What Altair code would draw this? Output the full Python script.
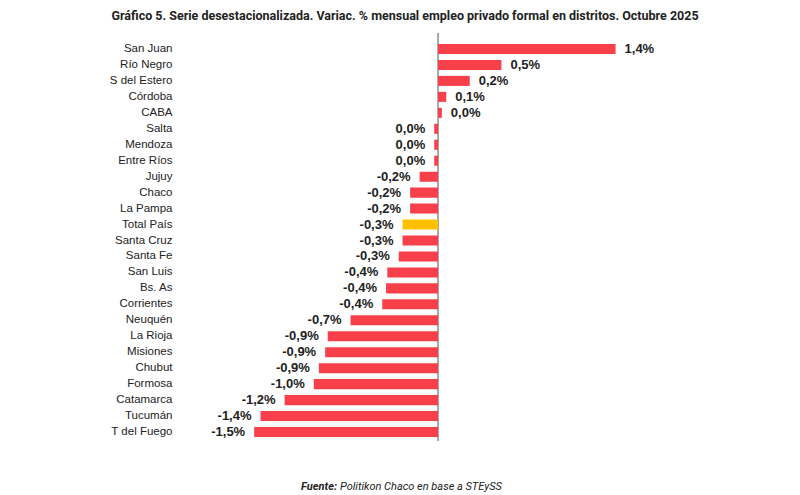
import altair as alt
import pandas as pd

title_text = "Gráfico 5. Serie desestacionalizada. Variac. % mensual empleo privado formal en distritos. Octubre 2025"
source_bold = "Fuente:"
source_rest = "Politikon Chaco en base a STEySS"

districts = ["San Juan", "Río Negro", "S del Estero", "Córdoba", "CABA", "Salta", "Mendoza",
             "Entre Ríos", "Jujuy", "Chaco", "La Pampa", "Total País", "Santa Cruz", "Santa Fe",
             "San Luis", "Bs. As", "Corrientes", "Neuquén", "La Rioja", "Misiones", "Chubut",
             "Formosa", "Catamarca", "Tucumán", "T del Fuego"]
values = [1.40, 0.50, 0.25, 0.065, 0.03, -0.03, -0.03, -0.03, -0.145, -0.22, -0.22, -0.28,
          -0.28, -0.31, -0.40, -0.41, -0.44, -0.69, -0.87, -0.89, -0.94, -0.98, -1.21, -1.40, -1.45]
labels = ["1,4%", "0,5%", "0,2%", "0,1%", "0,0%", "0,0%", "0,0%", "0,0%", "-0,2%", "-0,2%",
          "-0,2%", "-0,3%", "-0,3%", "-0,3%", "-0,4%", "-0,4%", "-0,4%", "-0,7%", "-0,9%",
          "-0,9%", "-0,9%", "-1,0%", "-1,2%", "-1,4%", "-1,5%"]
highlight = "Total País"

df = pd.DataFrame({"d": districts, "v": values, "lab": labels})
df["hl"] = df["d"] == highlight
df["pos"] = df["v"] >= 0

W, H = 520, 399
RED, GOLD = "#F7404A", "#FFC000"
DOM = [-2.035, 2.066]

y = alt.Y("d:N", sort=districts, title=None,
          scale=alt.Scale(paddingInner=0.37, paddingOuter=0.185),
          axis=alt.Axis(domain=False, ticks=False, grid=False, labelPadding=8, labelFontSize=11.5,
                        labelFont="Liberation Sans", labelColor="#222222"))
x = alt.X("v:Q", title=None, axis=None,
          scale=alt.Scale(domain=DOM, nice=False, zero=False))

base = alt.Chart(df)

bars = base.mark_bar().encode(
    x=x, x2=alt.datum(0), y=y,
    color=alt.condition(alt.datum.hl, alt.value(GOLD), alt.value(RED)),
)

pos_text = base.transform_filter(alt.datum.pos).mark_text(
    align="left", baseline="middle", dx=9, fontSize=13, fontWeight="bold",
    font="Liberation Sans", color="#222222").encode(x=x, y=y, text="lab:N")
neg_text = base.transform_filter(~alt.datum.pos).mark_text(
    align="right", baseline="middle", dx=-9, fontSize=13, fontWeight="bold",
    font="Liberation Sans", color="#222222").encode(x=x, y=y, text="lab:N")

zero_df = pd.DataFrame({"z": [0]})
zero_line = alt.Chart(zero_df).mark_rule(color="#555555", strokeWidth=1).encode(
    x=alt.X("z:Q", scale=alt.Scale(domain=DOM, nice=False, zero=False), axis=None),
    y=alt.value(-8), y2=alt.value(H + 1))

title_df = pd.DataFrame({"t": [title_text]})
title = alt.Chart(title_df).mark_text(
    align="center", baseline="alphabetic", fontSize=12.5, fontWeight="bold",
    font="Roboto", color="#222222").encode(
    text="t:N", x=alt.value(225), y=alt.value(-21))

src_df = pd.DataFrame({"a": [source_bold], "b": [source_rest]})
src_a = alt.Chart(src_df).mark_text(
    align="right", baseline="alphabetic", fontSize=11, fontWeight="bold", fontStyle="italic",
    font="Roboto", color="#222222").encode(
    text="a:N", x=alt.value(157), y=alt.value(H + 50))
src_b = alt.Chart(src_df).mark_text(
    align="left", baseline="alphabetic", fontSize=11, fontStyle="italic", dx=3,
    font="Roboto", color="#222222").encode(
    text="b:N", x=alt.value(157), y=alt.value(H + 50))

chart = alt.layer(zero_line, bars, pos_text, neg_text, title, src_a, src_b).properties(
    width=W, height=H,
    background="white",
    autosize=alt.AutoSizeParams(type="none"),
    padding={"left": 172, "top": 33, "right": 92, "bottom": 55},
).configure_view(strokeWidth=0, stroke="transparent")

chart.save("out.html", embed_options={"renderer": "svg", "actions": False})
